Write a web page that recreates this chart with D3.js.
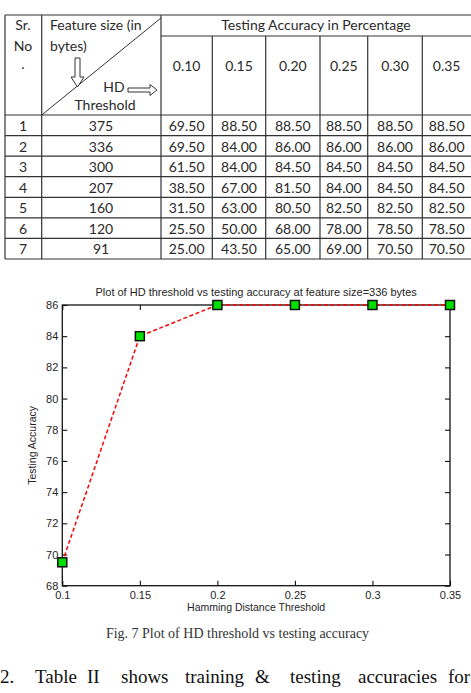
<!DOCTYPE html>
<html>
<head>
<meta charset="utf-8">
<script src="https://cdn.jsdelivr.net/npm/d3@7"></script>
<style>
  body { margin: 0; background: #fff; }
  svg { display: block; }
</style>
</head>
<body>
<div id="fig"></div>
<script>
// --- data (Table + Fig. 7)
var thresholds = [0.10, 0.15, 0.20, 0.25, 0.30, 0.35];
var serialNos = [1, 2, 3, 4, 5, 6, 7];
var featureSizes = [375, 336, 300, 207, 160, 120, 91];
var acc375 = [69.50, 88.50, 88.50, 88.50, 88.50, 88.50];
var acc336 = [69.50, 84.00, 86.00, 86.00, 86.00, 86.00];
var acc300 = [61.50, 84.00, 84.50, 84.50, 84.50, 84.50];
var acc207 = [38.50, 67.00, 81.50, 84.00, 84.50, 84.50];
var acc160 = [31.50, 63.00, 80.50, 82.50, 82.50, 82.50];
var acc120 = [25.50, 50.00, 68.00, 78.00, 78.50, 78.50];
var acc91  = [25.00, 43.50, 65.00, 69.00, 70.50, 70.50];
var yTicks = [68, 70, 72, 74, 76, 78, 80, 82, 84, 86];
var xTicks = [0.1, 0.15, 0.2, 0.25, 0.3, 0.35];

var rows = [acc375, acc336, acc300, acc207, acc160, acc120, acc91];

var W = 471, H = 693;
var svg = d3.select("#fig").append("svg")
    .attr("width", W)
    .attr("height", H);

// ---- Table ----
var tbl = svg.append("g").attr("class", "table");
// edges: Sr. | Feature size | 6 threshold columns (last one runs off the page)
var colEdges = [5, 41.7, 161, 212.3, 265.7, 320, 367.7, 422.3, 474];
var tTop = 15, tSub = 36, tHead = 115, tBottom = 259;
var rowY = d3.scaleBand().domain(d3.range(rows.length)).range([tHead, tBottom]);
var tColor = "#2a2a2a";
var tFont = "Lato, 'Open Sans', sans-serif";

function colMid(j) {
  return (colEdges[j + 2] + Math.min(colEdges[j + 3], 471)) / 2;
}

function hline(x1, x2, y) {
  tbl.append("line").attr("x1", x1).attr("x2", x2).attr("y1", y).attr("y2", y)
    .attr("stroke", "#333").attr("stroke-width", 1.2);
}
function vline(x, y1, y2) {
  tbl.append("line").attr("x1", x).attr("x2", x).attr("y1", y1).attr("y2", y2)
    .attr("stroke", "#333").attr("stroke-width", 1.2);
}
hline(colEdges[0], W + 5, tTop);
hline(colEdges[2], W + 5, tSub);
hline(colEdges[0], W + 5, tHead);
rows.forEach(function(r, i) { hline(colEdges[0], W + 5, rowY(i) + rowY.bandwidth()); });
vline(colEdges[0], tTop, tBottom);
vline(colEdges[1], tTop, tBottom);
vline(colEdges[2], tTop, tBottom);
for (var c = 3; c < colEdges.length - 1; c++) vline(colEdges[c], tSub, tBottom);

// diagonal in the header corner
tbl.append("line")
    .attr("x1", colEdges[1]).attr("y1", tHead)
    .attr("x2", colEdges[2]).attr("y2", tTop + 3)
    .attr("stroke", "#333").attr("stroke-width", 1);

function txt(s, x, y, anchor, size) {
  return tbl.append("text")
      .attr("x", x).attr("y", y)
      .attr("text-anchor", anchor || "middle")
      .attr("font-family", tFont)
      .attr("font-size", size || 14)
      .attr("fill", tColor)
      .text(s);
}
txt("Sr.", 23, 30);
txt("No", 23, 50.5);
txt(".", 23, 69);
txt("Feature size (in", 50, 30, "start");
txt("bytes)", 50, 50.5, "start");
txt("HD", 114, 92);
txt("Threshold", 105, 110);
txt("Testing Accuracy in Percentage", (colEdges[2] + 471) / 2, 30);

// outline arrows
tbl.append("path")
    .attr("d", "M75,58 L80,58 L80,77 L84,77 L77.5,87 L71,77 L75,77 Z")
    .attr("fill", "#fff").attr("stroke", "#333").attr("stroke-width", 1);
tbl.append("path")
    .attr("d", "M128,88 L150,88 L150,84.5 L157,90 L150,95.5 L150,92 L128,92 Z")
    .attr("fill", "#fff").attr("stroke", "#333").attr("stroke-width", 1);

thresholds.forEach(function(t, j) {
  txt(t.toFixed(2), colMid(j), 71);
});

rows.forEach(function(r, i) {
  var y = rowY(i) + 16;
  txt(serialNos[i], 23, y);
  txt(featureSizes[i], 101, y);
  r.forEach(function(v, j) {
    txt(v.toFixed(2), colMid(j), y);
  });
});

// ---- Plot ----
var plot = { left: 62.3, right: 450, top: 305, bottom: 585.7 };
var x = d3.scaleLinear().domain([0.1, 0.35]).range([plot.left, plot.right]);
var y = d3.scaleLinear().domain([68, 86]).range([plot.bottom, plot.top]);
var cFont = "'Liberation Sans', Arial, sans-serif";
var cText = "#262626";

var g = svg.append("g").attr("class", "chart");

// box
g.append("rect")
    .attr("x", plot.left).attr("y", plot.top)
    .attr("width", plot.right - plot.left).attr("height", plot.bottom - plot.top)
    .attr("fill", "none").attr("stroke", "#111").attr("stroke-width", 1.3);

var tick = 5;
var xAxis = g.append("g").attr("transform", "translate(0," + plot.bottom + ")")
    .call(d3.axisBottom(x).tickValues(xTicks).tickSizeInner(-tick).tickSizeOuter(0).tickPadding(6)
      .tickFormat(function(d) { return String(+d.toFixed(2)); }));
var xAxisTop = g.append("g").attr("transform", "translate(0," + plot.top + ")")
    .call(d3.axisTop(x).tickValues(xTicks).tickSizeInner(-tick).tickSizeOuter(0).tickFormat(""));
var yAxis = g.append("g").attr("transform", "translate(" + plot.left + ",0)")
    .call(d3.axisLeft(y).tickValues(yTicks).tickSizeInner(-tick).tickSizeOuter(0).tickPadding(4));
var yAxisRight = g.append("g").attr("transform", "translate(" + plot.right + ",0)")
    .call(d3.axisRight(y).tickValues(yTicks).tickSizeInner(-tick).tickSizeOuter(0).tickFormat(""));

[xAxis, xAxisTop, yAxis, yAxisRight].forEach(function(a) {
  a.select(".domain").remove();
  a.selectAll(".tick line").attr("stroke", "#111").attr("stroke-width", 1.1);
  a.selectAll("text").attr("font-family", cFont).attr("font-size", 11).attr("fill", cText);
});

// title + labels
g.append("text")
    .attr("x", (plot.left + plot.right) / 2).attr("y", 296)
    .attr("text-anchor", "middle")
    .attr("font-family", cFont).attr("font-size", 11).attr("fill", cText)
    .text("Plot of HD threshold vs testing accuracy at feature size=336 bytes");
g.append("text")
    .attr("x", (plot.left + plot.right) / 2).attr("y", 611)
    .attr("text-anchor", "middle")
    .attr("font-family", cFont).attr("font-size", 10.5).attr("fill", cText)
    .text("Hamming Distance Threshold");
g.append("text")
    .attr("transform", "translate(36," + (plot.top + plot.bottom) / 2 + ") rotate(-90)")
    .attr("text-anchor", "middle")
    .attr("font-family", cFont).attr("font-size", 10.5).attr("fill", cText)
    .text("Testing Accuracy");

// dashed line
var line = d3.line()
    .x(function(d, i) { return x(thresholds[i]); })
    .y(function(d) { return y(d); });
g.append("path")
    .datum(acc336)
    .attr("d", line)
    .attr("fill", "none")
    .attr("stroke", "#f00")
    .attr("stroke-width", 1.5)
    .attr("stroke-dasharray", "4,2.5");

// square markers
var ms = 9;
g.selectAll(".marker")
    .data(acc336)
  .enter().append("rect")
    .attr("class", "marker")
    .attr("x", function(d, i) { return x(thresholds[i]) - ms / 2; })
    .attr("y", function(d) { return y(d) - ms / 2; })
    .attr("width", ms).attr("height", ms)
    .attr("fill", "#00e000")
    .attr("stroke", "#111")
    .attr("stroke-width", 1.5);

// ---- caption and body text ----
var serif = "'Liberation Serif', 'Times New Roman', serif";
svg.append("text")
    .attr("x", 237.5).attr("y", 638)
    .attr("text-anchor", "middle")
    .attr("font-family", serif).attr("font-size", 14).attr("fill", "#333")
    .text("Fig. 7 Plot of HD threshold vs testing accuracy");

var bodyWords = ["2.", "Table", "II", "shows", "training", "&", "testing", "accuracies", "for"];
var bodyX = [0, 35, 87, 121, 185, 255, 290, 358, 448];
svg.append("g").selectAll("text")
    .data(bodyWords)
  .enter().append("text")
    .attr("x", function(d, i) { return bodyX[i]; })
    .attr("y", 683)
    .attr("font-family", serif).attr("font-size", 19).attr("fill", "#111")
    .text(function(d) { return d; });
</script>
</body>
</html>
